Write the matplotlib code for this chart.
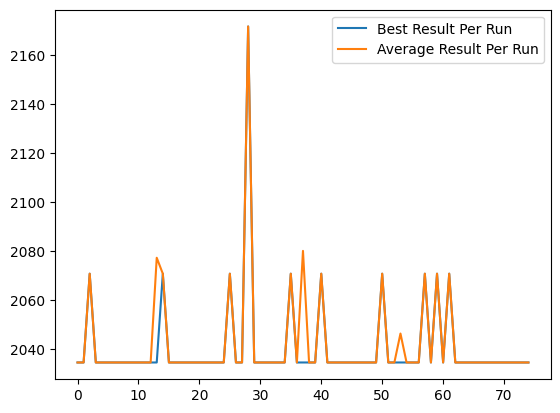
import matplotlib
matplotlib.use("Agg")
import matplotlib.pyplot as plt

BASE = 2034.5
runs = list(range(75))

# peaks: run -> value
best_peaks = {2: 2070.7, 14: 2070.7, 25: 2070.7, 28: 2171.5, 35: 2070.7,
              40: 2070.7, 50: 2070.7, 57: 2070.7, 59: 2070.7, 61: 2070.7}
avg_peaks = {2: 2070.7, 13: 2077.2, 14: 2070.7, 25: 2070.7, 28: 2171.5,
             35: 2070.7, 37: 2080.0, 40: 2070.7, 50: 2070.7, 53: 2046.3,
             57: 2070.7, 59: 2070.7, 61: 2070.7}

best_result = [best_peaks.get(r, BASE) for r in runs]
average_result = [avg_peaks.get(r, BASE) for r in runs]

plt.figure(figsize=(6.4, 4.8), dpi=100)
plt.plot(runs, best_result, label="Best Result Per Run")
plt.plot(runs, average_result, label="Average Result Per Run")
plt.legend(loc="upper right")
plt.savefig("out.png", bbox_inches="tight")
plt.close()
